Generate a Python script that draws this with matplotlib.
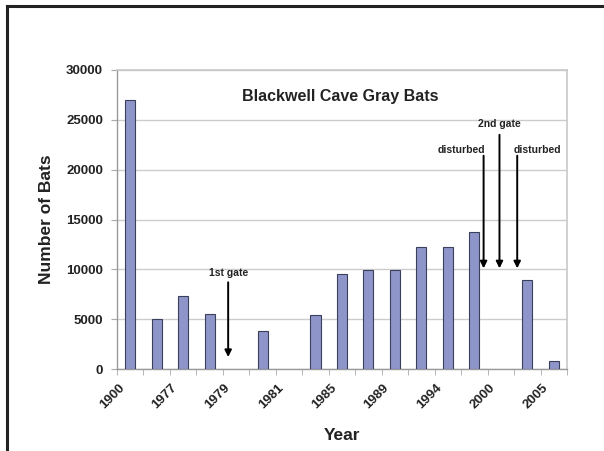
import numpy as np
import matplotlib.pyplot as plt

plt.rcParams['font.family'] = ['Liberation Sans', 'DejaVu Sans']

# survey years (only every other one gets a label on the axis)
years = ['1900', '1976', '1977', '1978', '1979', '1980', '1981', '1983', '1985',
         '1987', '1989', '1992', '1994', '1997', '2000', '2003', '2005']
bats = [27000, 5000, 7300, 5500, np.nan, 3800, np.nan, 5400, 9500,
        9900, 9900, 12200, 12200, 13700, np.nan, 8900, 800]

# events: label, x position (category units), arrow top, arrow tip, label y
events = [
    ('1st gate', 3.7, 8700, 1200, 9600, 'center'),
    ('disturbed', 13.35, 21400, 10100, 22000, 'right'),
    ('2nd gate', 13.95, 23500, 10100, 24600, 'center'),
    ('disturbed', 14.62, 21400, 10100, 22000, 'left'),
]

fig = plt.figure(figsize=(6.04, 4.51), dpi=100)
ax = fig.add_axes([0.1937, 0.1818, 0.745, 0.663])

x = np.arange(len(years))
ax.bar(x, bats, width=0.38, color='#8e95c9', edgecolor='#3a3f5c', linewidth=0.8, zorder=3)

ax.set_xlim(-0.5, len(years) - 0.5)
ax.set_ylim(0, 30000)
ax.set_yticks(range(0, 30001, 5000))
ax.grid(True, axis='y', color='#cccccc', linewidth=1.0, zorder=0)

# rotated labels sit a little to the left of their bar
ax.set_xticks(x[::2] - 0.45)
ax.set_xticklabels(years[::2], rotation=45, ha='right', rotation_mode='anchor',
                   fontsize=9.5, fontweight='bold', color='#222222')
ax.set_xticks(np.arange(-0.5, len(years)), minor=True)
ax.tick_params(axis='x', which='major', length=0, pad=9)
ax.tick_params(axis='x', which='minor', length=4, color='#aaaaaa', direction='out')
ax.tick_params(axis='y', length=4, color='#aaaaaa', labelsize=9.5, pad=6,
               labelcolor='#222222')
for lbl in ax.get_yticklabels():
    lbl.set_fontweight('bold')

for side in ['left', 'bottom']:
    ax.spines[side].set_color('#999999')
    ax.spines[side].set_linewidth(1.0)
for side in ['top', 'right']:
    ax.spines[side].set_color('#c8c8c8')
    ax.spines[side].set_linewidth(1.2)

ax.set_xlabel('Year', fontsize=12.5, fontweight='bold', labelpad=12, color='#222222')
ax.set_ylabel('Number of Bats', fontsize=12.5, fontweight='bold', labelpad=9,
              color='#222222')

ax.text(7.95, 27300, 'Blackwell Cave Gray Bats', ha='center', va='center',
        fontsize=11.5, fontweight='bold', color='#222222', zorder=5)

for label, xe, top, tip, ylab, align in events:
    ax.annotate('', xy=(xe, tip), xytext=(xe, top),
                arrowprops=dict(arrowstyle='-|>', color='black', lw=1.4,
                                mutation_scale=10, shrinkA=0, shrinkB=0),
                zorder=6)
    if align == 'right':
        xt = xe + 0.05
    elif align == 'left':
        xt = xe - 0.12
    else:
        xt = xe
    ax.text(xt, ylab, label, ha=align, va='center', fontsize=7.5,
            fontweight='bold', color='#222222', zorder=6)

# outer frame of the figure (top and left edges)
fig.add_artist(plt.Line2D([0.0115, 0.0115], [0, 0.987], transform=fig.transFigure,
                          color='#222222', linewidth=2.2))
fig.add_artist(plt.Line2D([0.0115, 1.0], [0.987, 0.987], transform=fig.transFigure,
                          color='#222222', linewidth=2.2))

fig.savefig('out.png', dpi=100)
